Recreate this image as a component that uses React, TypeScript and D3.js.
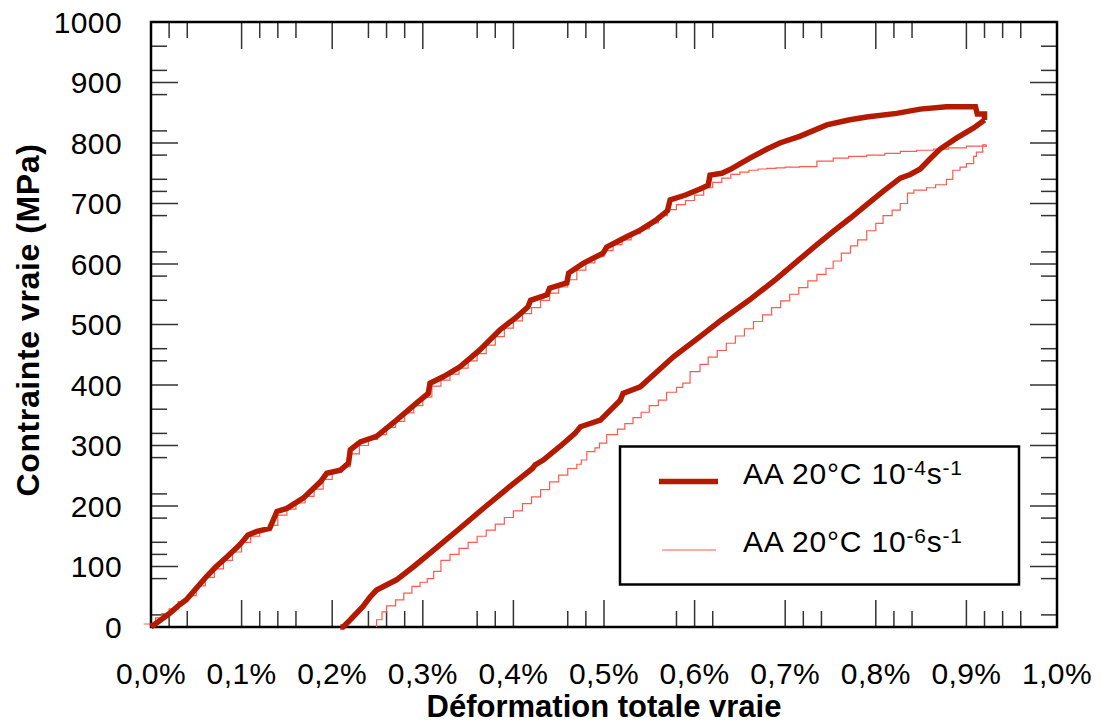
import React from "react";
import * as d3 from "d3";

// ---- data (strain in %, stress in MPa) ----
const fastLoading: [number, number][] = [
  [0, 0], [0.011, 12], [0.021, 23], [0.030, 35], [0.039, 45], [0.05, 64], [0.061, 83], [0.072, 100],
  [0.084, 116], [0.098, 136], [0.107, 152], [0.117, 158], [0.131, 163], [0.139, 191], [0.150, 196],
  [0.168, 213], [0.187, 240], [0.194, 254], [0.209, 259], [0.218, 271], [0.220, 293], [0.231, 306],
  [0.249, 315], [0.271, 342], [0.293, 370], [0.306, 386], [0.308, 403], [0.323, 414], [0.341, 430],
  [0.363, 458], [0.385, 491], [0.404, 513], [0.416, 529], [0.419, 540], [0.437, 549], [0.440, 560],
  [0.459, 569], [0.461, 585], [0.477, 601], [0.499, 618], [0.503, 628], [0.525, 645], [0.540, 656],
  [0.557, 672], [0.570, 688], [0.573, 706], [0.590, 714], [0.606, 724], [0.615, 730], [0.617, 747],
  [0.630, 750], [0.639, 756], [0.661, 775], [0.680, 790], [0.694, 800], [0.716, 811], [0.746, 830],
  [0.770, 838], [0.790, 843], [0.823, 849], [0.849, 856], [0.878, 860], [0.910, 860], [0.912, 848],
  [0.920, 848], [0.920, 838],
];
const fastUnloading: [number, number][] = [
  [0.920, 838], [0.908, 825], [0.889, 808], [0.871, 790], [0.860, 774], [0.849, 757], [0.838, 748],
  [0.827, 742], [0.808, 720], [0.790, 698], [0.772, 676], [0.753, 654], [0.735, 632], [0.716, 608],
  [0.69, 575], [0.66, 540], [0.63, 508], [0.606, 480], [0.577, 447], [0.540, 397], [0.521, 386],
  [0.518, 375], [0.496, 342], [0.474, 331], [0.468, 320], [0.451, 298], [0.433, 276], [0.424, 268],
  [0.421, 262], [0.40, 237], [0.37, 200], [0.34, 162], [0.308, 122], [0.29, 100], [0.271, 78],
  [0.249, 61], [0.242, 50], [0.234, 34], [0.22, 12], [0.212, 0], [0.209, 0],
];
const slowLoading: [number, number][] = [
  [-0.008, 5], [0.005, 15], [0.012, 22], [0.02, 30], [0.03, 42], [0.04, 52], [0.05, 68], [0.06, 82],
  [0.07, 96], [0.08, 110], [0.09, 124], [0.10, 140], [0.11, 150], [0.12, 160], [0.13, 168], [0.14, 185],
  [0.15, 195], [0.16, 205], [0.17, 216], [0.18, 228], [0.19, 244], [0.20, 256], [0.21, 265], [0.22, 286],
  [0.23, 300], [0.24, 310], [0.25, 318], [0.26, 330], [0.27, 340], [0.28, 354], [0.29, 366], [0.30, 380],
  [0.31, 398], [0.32, 408], [0.33, 418], [0.34, 428], [0.35, 440], [0.36, 452], [0.37, 466], [0.38, 480],
  [0.39, 494], [0.40, 506], [0.41, 518], [0.42, 528], [0.43, 540], [0.44, 552], [0.45, 562], [0.46, 574],
  [0.47, 590], [0.48, 602], [0.49, 612], [0.50, 622], [0.51, 632], [0.52, 640], [0.53, 650], [0.54, 658],
  [0.55, 668], [0.56, 680], [0.57, 690], [0.58, 698], [0.59, 705], [0.60, 714], [0.61, 726], [0.62, 735],
  [0.63, 742], [0.64, 748], [0.65, 752], [0.66, 755], [0.67, 757], [0.68, 758], [0.69, 759], [0.70, 760],
  [0.716, 761], [0.735, 770], [0.753, 775], [0.77, 778], [0.79, 780], [0.81, 783], [0.827, 786],
  [0.845, 788], [0.864, 790], [0.88, 792], [0.90, 795], [0.922, 797],
];
const slowUnloading: [number, number][] = [
  [0.922, 797], [0.918, 785], [0.911, 778], [0.908, 766], [0.900, 760], [0.893, 755], [0.885, 740],
  [0.878, 731], [0.866, 726], [0.856, 722], [0.842, 717], [0.835, 700], [0.827, 689], [0.818, 680],
  [0.808, 667], [0.80, 655], [0.790, 640], [0.78, 630], [0.772, 618], [0.762, 605], [0.753, 593],
  [0.745, 583], [0.735, 572], [0.725, 561], [0.715, 550], [0.705, 539], [0.695, 528], [0.685, 516],
  [0.675, 505], [0.665, 493], [0.655, 481], [0.645, 469], [0.635, 457], [0.625, 446], [0.615, 434],
  [0.606, 422], [0.595, 403], [0.587, 396], [0.58, 388], [0.569, 375], [0.56, 366], [0.55, 355],
  [0.541, 346], [0.532, 336], [0.523, 327], [0.515, 318], [0.503, 304], [0.495, 296], [0.49, 290],
  [0.481, 276], [0.475, 269], [0.47, 262], [0.46, 251], [0.45, 240], [0.44, 227], [0.43, 215],
  [0.42, 204], [0.41, 192], [0.40, 181], [0.39, 170], [0.38, 160], [0.37, 150], [0.36, 140],
  [0.35, 130], [0.34, 120], [0.33, 110], [0.32, 92], [0.312, 80], [0.305, 74], [0.297, 67],
  [0.288, 56], [0.279, 45], [0.270, 35], [0.260, 25], [0.255, 12], [0.249, 0],
];

const xMajorTicks = [0, 0.1, 0.2, 0.3, 0.4, 0.5, 0.6, 0.7, 0.8, 0.9, 1.0];
const xMinorTicks = [0.02, 0.04, 0.12, 0.14, 0.16, 0.24, 0.26, 0.28, 0.36, 0.38, 0.46, 0.48, 0.58, 0.62,
  0.72, 0.74, 0.82, 0.84, 0.92, 0.94, 0.96];
const yMajorTicks = [0, 100, 200, 300, 400, 500, 600, 700, 800, 900, 1000];
const yMinorTicks = [960, 920, 880, 820, 780, 740, 720, 680, 620, 580, 540, 460, 440, 360, 320, 280, 220,
  180, 140, 120, 80, 20];

const legendItems = [
  { label: "-4", color: "#b41a00", width: 5.5 },
  { label: "-6", color: "#ff5a4f", width: 1.2 },
];

const W = 1101, H = 726;
const L = 151, R = 1057, T = 22, B = 627;
const FONT = "'Liberation Sans', Arial, Helvetica, sans-serif";

export default function App() {
  const x = d3.scaleLinear().domain([0, 1]).range([L, R]);
  const y = d3.scaleLinear().domain([0, 1000]).range([B, T]);
  const lineLin = d3.line<[number, number]>().x(d => x(d[0])).y(d => y(d[1]));
  const lineStep = d3.line<[number, number]>().x(d => x(d[0])).y(d => y(d[1])).curve(d3.curveStepAfter);
  const fmt = (v: number) => v.toFixed(1).replace(".", ",") + "%";
  const tickStroke = "#333";
  const majLen = 27, minLen = 16;

  return (
    <svg width={W} height={H} style={{ position: "absolute", left: 0, top: 0, background: "#fff" }}
      fontFamily={FONT}>
      <rect x={0} y={0} width={W} height={H} fill="#fff" />
      {/* ticks */}
      <g stroke={tickStroke} strokeWidth={1.5}>
        {xMajorTicks.map(v => (
          <g key={"xM" + v}>
            <line x1={x(v)} x2={x(v)} y1={B} y2={B - majLen} />
            <line x1={x(v)} x2={x(v)} y1={T} y2={T + majLen} />
          </g>
        ))}
        {xMinorTicks.map(v => (
          <g key={"xm" + v}>
            <line x1={x(v)} x2={x(v)} y1={B} y2={B - minLen} />
            <line x1={x(v)} x2={x(v)} y1={T} y2={T + minLen} />
          </g>
        ))}
        {yMajorTicks.map(v => (
          <g key={"yM" + v}>
            <line x1={L} x2={L + majLen} y1={y(v)} y2={y(v)} />
            <line x1={R} x2={R - majLen} y1={y(v)} y2={y(v)} />
          </g>
        ))}
        {yMinorTicks.map(v => (
          <g key={"ym" + v}>
            <line x1={L} x2={L + minLen} y1={y(v)} y2={y(v)} />
            <line x1={R} x2={R - minLen} y1={y(v)} y2={y(v)} />
          </g>
        ))}
      </g>
      <rect x={L} y={T} width={R - L} height={B - T} fill="none" stroke="#000" strokeWidth={2.5} />

      {/* tick labels */}
      <g fontSize={30} fill="#000" letterSpacing={0.4}>
        {yMajorTicks.map(v => (
          <text key={"yl" + v} x={122} y={y(v)} textAnchor="end" dominantBaseline="central">{v}</text>
        ))}
        {xMajorTicks.map(v => (
          <text key={"xl" + v} x={x(v)} y={684} textAnchor="middle">{fmt(v)}</text>
        ))}
      </g>

      {/* axis titles */}
      <text x={(L + R) / 2} y={717} textAnchor="middle" fontWeight="bold" fontSize={31}>Déformation totale vraie</text>
      <text transform={`translate(39, 320) rotate(-90)`} textAnchor="middle" fontWeight="bold" fontSize={32}
        letterSpacing={0.6}>Contrainte vraie (MPa)</text>

      {/* curves */}
      <path d={lineStep(slowLoading) || ""} fill="none" stroke={legendItems[1].color} strokeWidth={1.2} />
      <path d={lineStep(slowUnloading) || ""} fill="none" stroke={legendItems[1].color} strokeWidth={1.2} />
      <path d={lineLin(fastLoading) || ""} fill="none" stroke={legendItems[0].color} strokeWidth={5.5} strokeLinejoin="miter" />
      <path d={lineLin(fastUnloading) || ""} fill="none" stroke={legendItems[0].color} strokeWidth={5.5} strokeLinejoin="miter" />

      {/* legend */}
      <rect x={620} y={446.5} width={399} height={138} fill="#fff" stroke="#000" strokeWidth={2.5} />
      {legendItems.map((it, i) => {
        const ly = i === 0 ? 481.5 : 550;
        const by = i === 0 ? 484 : 552;
        return (
          <g key={it.label}>
            <line x1={i === 0 ? 659 : 662} x2={i === 0 ? 718 : 716} y1={ly} y2={ly} stroke={it.color} strokeWidth={it.width} />
            <text x={743} y={by} fontSize={30} letterSpacing={0.8}>
              AA 20°C 10<tspan fontSize={21} dy={-9}>{it.label}</tspan><tspan fontSize={30} dy={9}>s</tspan><tspan fontSize={21} dy={-9}>-1</tspan>
            </text>
          </g>
        );
      })}
    </svg>
  );
}
